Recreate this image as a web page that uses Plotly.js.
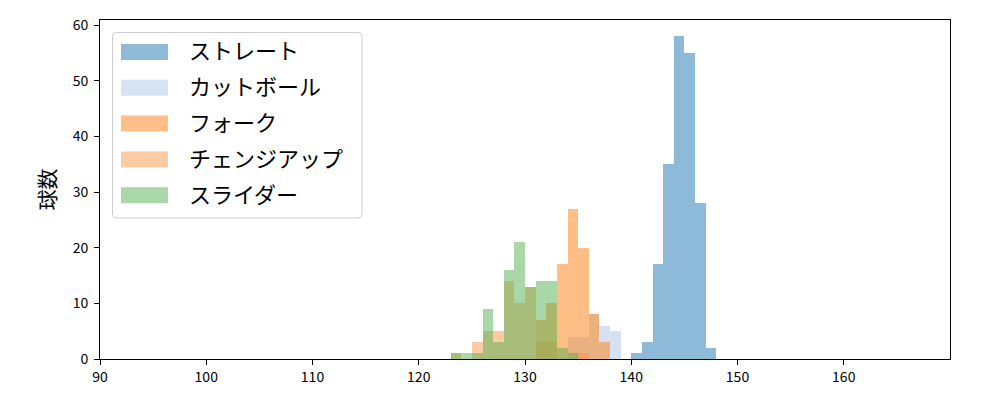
<!DOCTYPE html>
<html>
<head>
<meta charset="utf-8">
<script src="https://cdn.plot.ly/plotly-3.0.1.min.js"></script>
<style>
html, body { margin: 0; padding: 0; background: #ffffff; }
#chart { width: 1000px; height: 400px; }
</style>
</head>
<body>
<div id="chart"></div>
<script>
// ---- data (bin left edges, km/h, and counts) ----
const seriesNames = ["ストレート", "カットボール", "フォーク", "チェンジアップ", "スライダー"];
const seriesColors = ["#1f77b4", "#aec7e8", "#ff7f0e", "#fb9749", "#55b151"];

const straightBins = [140, 141, 142, 143, 144, 145, 146, 147];
const straightCounts = [1, 3, 17, 35, 58, 55, 28, 2];

const cutBins = [134, 135, 136, 137, 138];
const cutCounts = [4, 4, 8, 6, 5];

const forkBins = [131, 132, 133, 134, 135, 136, 137];
const forkCounts = [7, 10, 17, 27, 20, 8, 3];

const changeupBins = [123, 124, 125, 126, 127, 128, 129, 130, 131, 132, 135];
const changeupCounts = [1, 0, 3, 5, 5, 14, 10, 13, 3, 3, 1];

const sliderBins = [123, 124, 125, 126, 127, 128, 129, 130, 131, 132, 133, 134];
const sliderCounts = [1, 1, 1, 9, 3, 16, 21, 13, 14, 14, 2, 1];

const xTicks = [90, 100, 110, 120, 130, 140, 150, 160];
const yTicks = [0, 10, 20, 30, 40, 50, 60];
const yTitle = "球数";

// ---- build ----
const FONT = "'Noto Sans CJK JP', 'Noto Sans', sans-serif";
const ALPHA = 0.5;

function hexToRgba(hex, a) {
  const r = parseInt(hex.slice(1, 3), 16);
  const g = parseInt(hex.slice(3, 5), 16);
  const b = parseInt(hex.slice(5, 7), 16);
  return `rgba(${r},${g},${b},${a})`;
}

const allBins = [straightBins, cutBins, forkBins, changeupBins, sliderBins];
const allCounts = [straightCounts, cutCounts, forkCounts, changeupCounts, sliderCounts];

const traces = seriesNames.map((name, i) => ({
  type: "bar",
  name: name,
  x: allBins[i],
  y: allCounts[i],
  width: 1,
  offset: 0,
  marker: { color: seriesColors[i], line: { width: 0 } },
  opacity: ALPHA,
  showlegend: false,
  hoverinfo: "x+y+name"
}));

// plot area geometry (pixels)
const W = 1000, H = 400;
const mL = 100, mR = 50, mT = 20, mB = 41;
const pw = W - mL - mR, ph = H - mT - mB;
const px2x = (px) => (px - mL) / pw;
const py2y = (py) => (H - mB - py) / ph;

// custom legend (matplotlib style)
const shapes = [];
const annotations = [];
const lgX0 = 112.5, lgX1 = 362, lgY0 = 32.5, lgY1 = 218;
const rad = 4;
const rx = rad / pw, ry = rad / ph;
const X0 = px2x(lgX0), X1 = px2x(lgX1), Yt = py2y(lgY0), Yb = py2y(lgY1);
shapes.push({
  type: "path", xref: "paper", yref: "paper",
  path: `M ${X0 + rx},${Yt} L ${X1 - rx},${Yt} Q ${X1},${Yt} ${X1},${Yt - ry} ` +
        `L ${X1},${Yb + ry} Q ${X1},${Yb} ${X1 - rx},${Yb} ` +
        `L ${X0 + rx},${Yb} Q ${X0},${Yb} ${X0},${Yb + ry} ` +
        `L ${X0},${Yt - ry} Q ${X0},${Yt} ${X0 + rx},${Yt} Z`,
  fillcolor: "rgba(255,255,255,0.8)",
  line: { color: "#cccccc", width: 1 },
  layer: "above"
});
seriesNames.forEach((name, i) => {
  const cy = 52 + i * 35.8;
  shapes.push({
    type: "rect", xref: "paper", yref: "paper",
    x0: px2x(121), x1: px2x(168), y0: py2y(cy + 8), y1: py2y(cy - 8),
    fillcolor: hexToRgba(seriesColors[i], ALPHA),
    line: { width: 0 },
    layer: "above"
  });
  annotations.push({
    xref: "paper", yref: "paper",
    x: px2x(187), y: py2y(cy - 2.5),
    xanchor: "left", yanchor: "middle",
    text: name, showarrow: false,
    font: { family: FONT, size: 22, color: "#000000" }
  });
});

const layout = {
  width: W, height: H,
  margin: { l: mL, r: mR, t: mT, b: mB, pad: 0 },
  paper_bgcolor: "#ffffff",
  plot_bgcolor: "#ffffff",
  barmode: "overlay",
  bargap: 0,
  showlegend: false,
  font: { family: FONT, size: 14, color: "#000000" },
  xaxis: {
    range: [90, 170],
    tickmode: "array", tickvals: xTicks, ticktext: xTicks.map(String),
    ticks: "outside", ticklen: 5, tickwidth: 1, tickcolor: "#000000",
    showline: true, linecolor: "#000000", linewidth: 1, mirror: true,
    showgrid: false, zeroline: false,
    tickfont: { family: FONT, size: 14, color: "#000000" }
  },
  yaxis: {
    range: [0, 60.9],
    tickmode: "array", tickvals: yTicks, ticktext: yTicks.map(String),
    ticks: "outside", ticklen: 5, tickwidth: 1, tickcolor: "#000000",
    showline: true, linecolor: "#000000", linewidth: 1, mirror: true,
    showgrid: false, zeroline: false,
    ticklabelstandoff: 3,
    tickfont: { family: FONT, size: 14, color: "#000000" },
    title: { text: yTitle, font: { family: FONT, size: 21, color: "#000000" }, standoff: 11 }
  },
  shapes: shapes,
  annotations: annotations
};

Plotly.newPlot("chart", traces, layout, { displayModeBar: false, staticPlot: true });
</script>
</body>
</html>
